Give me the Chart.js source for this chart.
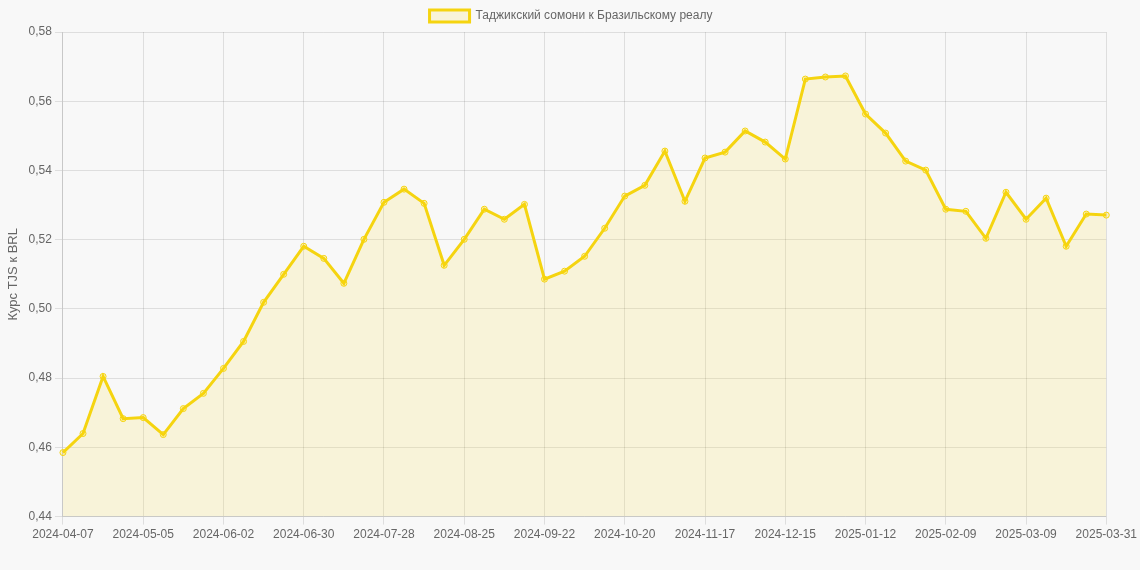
<!DOCTYPE html>
<html lang="ru">
<head>
<meta charset="utf-8">
<title>TJS к BRL</title>
<script src="https://cdn.jsdelivr.net/npm/chart.js@4.4.1/dist/chart.umd.min.js"></script>
<style>
  html, body { margin: 0; padding: 0; background: #f8f8f8; }
  #wrap { width: 1140px; height: 570px; position: relative; }
</style>
</head>
<body>
<div id="wrap"><canvas id="rateChart"></canvas></div>
<script>
const dates = [
  "2024-04-07", "2024-04-14", "2024-04-21", "2024-04-28", "2024-05-05", "2024-05-12",
  "2024-05-19", "2024-05-26", "2024-06-02", "2024-06-09", "2024-06-16", "2024-06-23",
  "2024-06-30", "2024-07-07", "2024-07-14", "2024-07-21", "2024-07-28", "2024-08-04",
  "2024-08-11", "2024-08-18", "2024-08-25", "2024-09-01", "2024-09-08", "2024-09-15",
  "2024-09-22", "2024-09-29", "2024-10-06", "2024-10-13", "2024-10-20", "2024-10-27",
  "2024-11-03", "2024-11-10", "2024-11-17", "2024-11-24", "2024-12-01", "2024-12-08",
  "2024-12-15", "2024-12-22", "2024-12-29", "2025-01-05", "2025-01-12", "2025-01-19",
  "2025-01-26", "2025-02-02", "2025-02-09", "2025-02-16", "2025-02-23", "2025-03-02",
  "2025-03-09", "2025-03-16", "2025-03-23", "2025-03-30", "2025-03-31"
];

const rates = [
  0.4585, 0.4640, 0.4805, 0.4683, 0.4686, 0.4637,
  0.4712, 0.4756, 0.4828, 0.4906, 0.5019, 0.5100,
  0.5181, 0.5146, 0.5074, 0.5201, 0.5308, 0.5346,
  0.5305, 0.5126, 0.5201, 0.5288, 0.5259, 0.5302,
  0.5086, 0.5109, 0.5152, 0.5233, 0.5326, 0.5357,
  0.5456, 0.5311, 0.5436, 0.5453, 0.5514, 0.5482,
  0.5433, 0.5664, 0.5670, 0.5673, 0.5563, 0.5508,
  0.5427, 0.5401, 0.5288, 0.5282, 0.5204, 0.5337,
  0.5259, 0.5320, 0.5181, 0.5274, 0.5271
];

const seriesLabel = "Таджикский сомони к Бразильскому реалу";
const axisTitle = "Курс TJS к BRL";

const yMin = 0.44;
const yMax = 0.58;
const yStep = 0.02;

const ctx = document.getElementById("rateChart");

new Chart(ctx, {
  type: "line",
  data: {
    labels: dates,
    datasets: [
      {
        label: seriesLabel,
        data: rates,
        borderColor: "#f5d410",
        backgroundColor: "rgba(255, 215, 0, 0.12)",
        borderWidth: 3,
        fill: true,
        tension: 0,
        pointRadius: 3,
        pointBorderWidth: 1,
        pointBackgroundColor: "rgba(255, 215, 0, 0.2)",
        pointBorderColor: "#f5d410"
      }
    ]
  },
  options: {
    responsive: true,
    maintainAspectRatio: false,
    animation: false,
    layout: {
      padding: { left: 2, bottom: 25 }
    },
    plugins: {
      legend: {
        labels: { color: "#666", font: { size: 12 } }
      },
      tooltip: { enabled: false }
    },
    scales: {
      x: {
        ticks: {
          autoSkip: false,
          maxRotation: 0,
          color: "#666",
          callback: function (value, index) {
            return index % 4 === 0 ? dates[index] : null;
          }
        },
        grid: { color: "rgba(0,0,0,0.1)" }
      },
      y: {
        min: yMin,
        max: yMax,
        ticks: {
          stepSize: yStep,
          color: "#666",
          callback: (v) => v.toFixed(2).replace(".", ",")
        },
        title: {
          display: true,
          text: axisTitle,
          color: "#666",
          font: { size: 13 }
        },
        grid: { color: "rgba(0,0,0,0.1)" }
      }
    }
  }
});
</script>
</body>
</html>
